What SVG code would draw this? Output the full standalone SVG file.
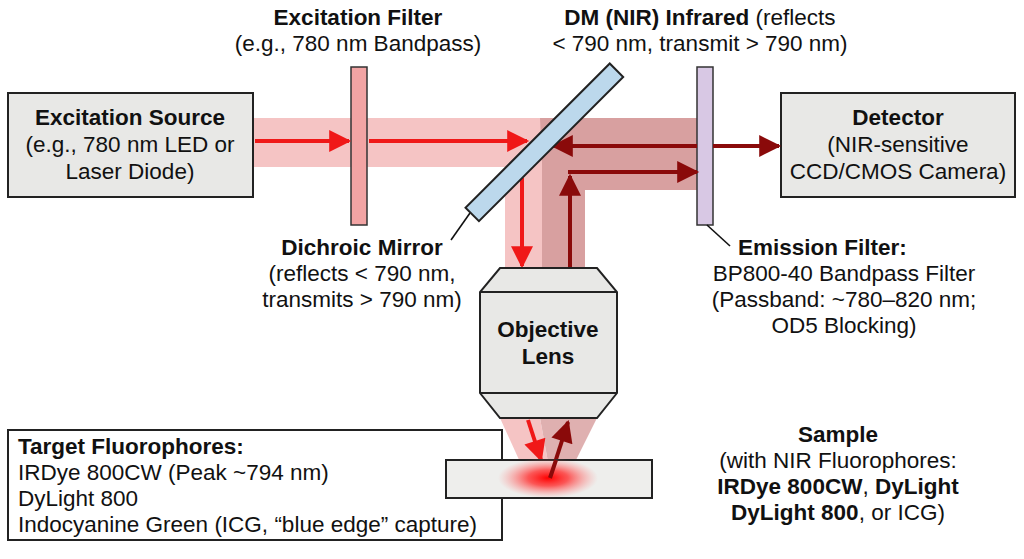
<svg xmlns="http://www.w3.org/2000/svg" width="1024" height="559" viewBox="0 0 1024 559">
<defs>
<style>
text{font-family:"Liberation Sans",Arial,sans-serif;font-size:22.5px;fill:#111}
.b{font-weight:bold}
.box{fill:#e8e8e6;stroke:#222;stroke-width:2}
.red{stroke:#f01818;stroke-width:4;fill:none}
.dk{stroke:#8a0a0a;stroke-width:4;fill:none}
.lead{stroke:#111;stroke-width:1.6}
</style>
<marker id="ar" viewBox="0 0 10 10" refX="9" refY="5" markerWidth="24" markerHeight="22" orient="auto" markerUnits="userSpaceOnUse"><path d="M0,0L10,5L0,10z" fill="#f01818"/></marker>
<marker id="ad" viewBox="0 0 10 10" refX="9" refY="5" markerWidth="24" markerHeight="22" orient="auto" markerUnits="userSpaceOnUse"><path d="M0,0L10,5L0,10z" fill="#8a0a0a"/></marker>
<radialGradient id="glow"><stop offset="0" stop-color="#ff0000"/><stop offset="0.4" stop-color="#ff3030" stop-opacity="0.8"/><stop offset="1" stop-color="#ff8080" stop-opacity="0"/></radialGradient>
</defs>
<rect width="1024" height="559" fill="#fff"/>
<g id="beams">
<rect x="253" y="118" width="300" height="49" fill="#f5c4c4"/>
<rect x="505" y="160" width="37" height="108" fill="#f5c4c4"/>
<path d="M540,118H697V190H585V268H542V160Z" fill="#d8a0a0"/>
<polygon points="500,418 540,418 548,462 520,462" fill="#f5c4c4"/>
<polygon points="540,418 597,418 575,462 548,462" fill="#dfb0b0"/>
</g>
<g id="source"><rect class="box" x="8" y="93" width="245" height="104"/>
<text class="b" x="130" y="125" text-anchor="middle">Excitation Source</text>
<text x="130" y="152" text-anchor="middle">(e.g., 780 nm LED or</text>
<text x="130" y="179" text-anchor="middle">Laser Diode)</text></g>
<g id="exfilter"><rect x="351" y="67" width="16" height="158" fill="#f2a4a4" stroke="#333" stroke-width="1.5"/>
<text class="b" x="358" y="25" text-anchor="middle">Excitation Filter</text>
<text x="358" y="51" text-anchor="middle">(e.g., 780 nm Bandpass)</text></g>
<g id="emfilter"><rect x="697" y="67" width="16" height="158" fill="#d8c8e4" stroke="#333" stroke-width="1.5"/>
<text x="738" y="255"><tspan class="b">Emission Filter:</tspan></text>
<text x="844" y="281" text-anchor="middle">BP800-40 Bandpass Filter</text>
<text x="844" y="307" text-anchor="middle">(Passband: ~780–820 nm;</text>
<text x="844" y="333" text-anchor="middle">OD5 Blocking)</text></g>
<g id="detector"><rect class="box" x="781" y="93" width="234" height="104"/>
<text class="b" x="898" y="125" text-anchor="middle">Detector</text>
<text x="898" y="152" text-anchor="middle">(NIR-sensitive</text>
<text x="898" y="179" text-anchor="middle">CCD/CMOS Camera)</text></g>
<g id="connectors">
<line class="red" x1="255" y1="141" x2="349" y2="141" marker-end="url(#ar)"/>
<line class="red" x1="369" y1="141" x2="527" y2="141" marker-end="url(#ar)"/>
<line class="red" x1="522" y1="178" x2="522" y2="266" marker-end="url(#ar)"/>
<line class="dk" x1="570" y1="268" x2="570" y2="176" marker-end="url(#ad)"/>
<line class="dk" x1="568" y1="172" x2="697" y2="172" marker-end="url(#ad)"/>
<line class="dk" x1="697" y1="146" x2="553" y2="146" marker-end="url(#ad)"/>
<line class="dk" x1="713" y1="146" x2="779" y2="146" marker-end="url(#ad)"/>
<line class="red" x1="528" y1="420" x2="541" y2="460" marker-end="url(#ar)"/>
<line class="dk" x1="550" y1="478" x2="568" y2="422" marker-end="url(#ad)"/>
<line class="lead" x1="470" y1="213" x2="451" y2="240"/>
<line class="lead" x1="707" y1="225" x2="730" y2="246"/>
</g>
<g id="mirror"><rect x="442" y="133" width="204" height="19" fill="#bcd8ec" stroke="#222" stroke-width="2" transform="rotate(-45 544 142)"/>
<text class="b" x="362" y="255" text-anchor="middle">Dichroic Mirror</text>
<text x="362" y="281" text-anchor="middle">(reflects &lt; 790 nm,</text>
<text x="362" y="307" text-anchor="middle">transmits &gt; 790 nm)</text>
<text x="700" y="25" text-anchor="middle"><tspan class="b">DM (NIR) Infrared</tspan> (reflects</text>
<text x="700" y="51" text-anchor="middle">&lt; 790 nm, transmit &gt; 790 nm)</text></g>
<g id="lens"><path d="M500,268H597L617,292V393L597,418H500L480,393V292Z" class="box"/>
<line x1="480" y1="292" x2="617" y2="292" stroke="#222" stroke-width="2"/>
<line x1="480" y1="393" x2="617" y2="393" stroke="#222" stroke-width="2"/>
<text class="b" x="548" y="337" text-anchor="middle">Objective</text>
<text class="b" x="548" y="364" text-anchor="middle">Lens</text></g>
<g id="target"><rect x="8" y="430" width="494" height="110" fill="#fff" stroke="#222" stroke-width="2"/>
<text class="b" x="18" y="454">Target Fluorophores:</text>
<text x="18" y="480">IRDye 800CW (Peak ~794 nm)</text>
<text x="18" y="506">DyLight 800</text>
<text x="18" y="532">Indocyanine Green (ICG, “blue edge” capture)</text></g>
<g id="sample"><rect x="446" y="460" width="206" height="38" fill="#eeeeec" stroke="#222" stroke-width="2"/>
<ellipse cx="548" cy="478" rx="50" ry="20" fill="url(#glow)"/>
<line class="dk" x1="550" y1="478" x2="556" y2="460"/>
<text class="b" x="838" y="442" text-anchor="middle">Sample</text>
<text x="838" y="468" text-anchor="middle">(with NIR Fluorophores:</text>
<text class="b" x="838" y="494" text-anchor="middle">IRDye 800CW<tspan font-weight="normal">, </tspan>DyLight</text>
<text x="838" y="520" text-anchor="middle"><tspan class="b">DyLight 800</tspan>, or ICG)</text></g>
</svg>
